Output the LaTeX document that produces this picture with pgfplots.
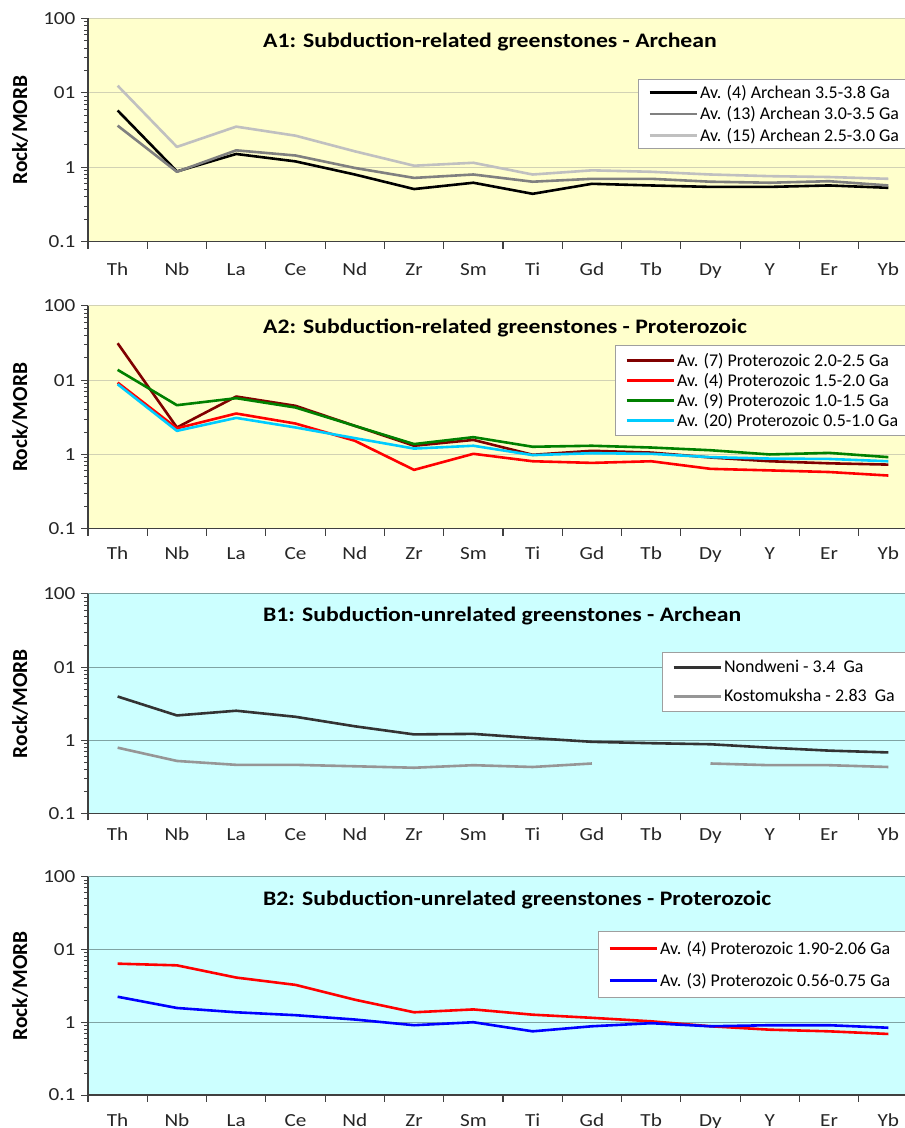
\documentclass[border=0pt]{standalone}
\usepackage{fontspec}
\setmainfont{Carlito}[FakeStretch=1.15]
\newfontfamily\ylfont{Carlito}
\newfontfamily\lgfont{Carlito}
\usepackage{pgfplots}
\usepackage{pgfplotstable}
\pgfplotsset{compat=1.18}

\definecolor{bgA}{HTML}{FFFFCC}
\definecolor{bgB}{HTML}{CCFFFF}
\definecolor{gridA}{HTML}{D2D2B4}
\definecolor{gridB}{HTML}{7FA3A3}
\definecolor{axc}{HTML}{404040}
\definecolor{lgrey}{HTML}{C0C0C0}
\definecolor{mgrey}{HTML}{808080}
\definecolor{dred}{HTML}{800000}
\definecolor{cgreen}{HTML}{008000}
\definecolor{ccyan}{HTML}{00CCFF}
\definecolor{ndw}{HTML}{333333}
\definecolor{kst}{HTML}{969696}

\newcommand{\tail}{\hspace*{16bp}}

\pgfplotstableread{
idx a4 a13 a15
0 5.8 3.63 12.5
1 0.88 0.87 1.88
2 1.51 1.69 3.52
3 1.2 1.44 2.66
4 0.80 0.98 1.64
5 0.51 0.72 1.05
6 0.62 0.80 1.15
7 0.44 0.64 0.80
8 0.60 0.70 0.91
9 0.57 0.70 0.87
10 0.545 0.64 0.80
11 0.545 0.62 0.76
12 0.57 0.65 0.74
13 0.53 0.57 0.70
}\tabAone

\pgfplotstableread{
idx p7 p4 p9 p20
0 31.5 9.3 13.8 8.83
1 2.31 2.25 4.61 2.08
2 6.03 3.56 5.73 3.11
3 4.52 2.61 4.29 2.31
4 2.43 1.53 2.43 1.66
5 1.31 0.62 1.38 1.20
6 1.57 1.02 1.71 1.31
7 0.99 0.81 1.27 0.98
8 1.12 0.77 1.31 1.04
9 1.06 0.81 1.24 1.02
10 0.91 0.64 1.14 0.92
11 0.81 0.61 1.00 0.88
12 0.76 0.58 1.05 0.87
13 0.73 0.52 0.92 0.81
}\tabAtwo

\pgfplotstableread{
idx n k
0 3.96 0.79
1 2.18 0.52
2 2.53 0.46
3 2.09 0.46
4 1.55 0.44
5 1.20 0.42
6 1.22 0.455
7 1.07 0.43
8 0.95 0.48
9 0.91 nan
10 0.88 0.48
11 0.79 0.455
12 0.72 0.455
13 0.68 0.43
}\tabBone

\pgfplotstableread{
idx r b
0 6.38 2.24
1 6.05 1.57
2 4.11 1.37
3 3.26 1.25
4 2.04 1.09
5 1.37 0.91
6 1.50 1.00
7 1.27 0.75
8 1.15 0.88
9 1.03 0.97
10 0.88 0.88
11 0.79 0.91
12 0.75 0.91
13 0.69 0.84
}\tabBtwo

\pgfplotsset{
  legend image code/.code={\draw[#1] (0bp,0bp) -- (40bp,0bp); \path (0bp,0bp) -- (47bp,0bp);},
  scale only axis, width=830bp,
  xmin=-0.5, xmax=13.5,
  ymin=0.1, ymax=100,
  axis x line*=bottom, axis y line*=left,
  axis line style={draw=axc, line width=1.2bp},
  xtick={0,...,13},
  xticklabels={Th,Nb,La,Ce,Nd,Zr,Sm,Ti,Gd,Tb,Dy,Y,Er,Yb},
  xtick style={draw=none},
  extra x ticks={-0.5,0.5,...,13.5},
  extra x tick labels={},
  extra x tick style={xtick style={draw=axc, line width=1.2bp}},
  ytick={0.1,1,10,100},
  yticklabels={0.1,1,01,100},
  minor ytick={0.2,0.3,0.4,0.5,0.6,0.7,0.8,0.9,2,3,4,5,6,7,8,9,20,30,40,50,60,70,80,90},
  tick align=outside,
  major tick length=7bp, minor tick length=4bp,
  ytick style={draw=axc, line width=1bp},
  ymajorgrids,
  tick label style={font=\fontsize{18.5}{20}\selectfont, text=black!85},
  yticklabel style={anchor=east, xshift=-2bp},
  ylabel={Rock/MORB},
  every axis y label/.style={at={(axis description cs:-0.0819,0.5)}, rotate=90, anchor=center, font=\ylfont\bfseries\fontsize{21.5}{23}\selectfont},
  legend cell align=left,
  legend style={anchor=north west, draw=gray!75, fill=white, line width=1bp,
    font=\lgfont\fontsize{18}{20}\selectfont, inner xsep=10bp},
  unbounded coords=jump,
}
\tikzset{ttl/.style={anchor=base west, inner sep=0pt, font=\bfseries\fontsize{20.7}{22}\selectfont},
  pl/.style={line width=2.6bp, line join=round}}

\begin{document}
\begin{tikzpicture}
% A1
\begin{axis}[ymode=log, height=223.2bp, at={(88bp,886.3bp)}, anchor=south west,
  axis background/.style={fill=bgA}, major grid style={draw=gridA, line width=1bp},
  xticklabel style={anchor=base, yshift=-26.7bp},
  legend style={at={(0.6627,0.731)}, row sep=3bp, inner ysep=4bp}]
\addplot[pl, black] table[x=idx,y=a4] {\tabAone};
\addlegendentry{Av. (4) Archean 3.5-3.8 Ga\tail}
\addplot[pl, mgrey] table[x=idx,y=a13] {\tabAone};
\addlegendentry{Av. (13) Archean 3.0-3.5 Ga\tail}
\addplot[pl, lgrey] table[x=idx,y=a15] {\tabAone};
\addlegendentry{Av. (15) Archean 2.5-3.0 Ga\tail}
\node[ttl] at (rel axis cs:0.2108,0.869) {A1: Subduction-related greenstones - Archean};
\end{axis}
% A2
\begin{axis}[ymode=log, height=222.7bp, at={(88bp,599.3bp)}, anchor=south west,
  axis background/.style={fill=bgA}, major grid style={draw=gridA, line width=1bp},
  xticklabel style={anchor=base, yshift=-23.6bp},
  legend style={at={(0.6349,0.825)}, row sep=1.5bp, inner ysep=5.5bp}]
\addplot[pl, dred] table[x=idx,y=p7] {\tabAtwo};
\addlegendentry{Av. (7) Proterozoic 2.0-2.5 Ga\tail}
\addplot[pl, red] table[x=idx,y=p4] {\tabAtwo};
\addlegendentry{Av. (4) Proterozoic 1.5-2.0 Ga\tail}
\addplot[pl, cgreen] table[x=idx,y=p9] {\tabAtwo};
\addlegendentry{Av. (9) Proterozoic 1.0-1.5 Ga\tail}
\addplot[pl, ccyan] table[x=idx,y=p20] {\tabAtwo};
\addlegendentry{Av. (20) Proterozoic 0.5-1.0 Ga\tail}
\node[ttl] at (rel axis cs:0.2108,0.877) {A2: Subduction-related greenstones - Proterozoic};
\end{axis}
% B1
\begin{axis}[ymode=log, height=219.3bp, at={(88bp,314.7bp)}, anchor=south west,
  axis background/.style={fill=bgB}, major grid style={draw=gridB, line width=1bp},
  xticklabel style={anchor=base, yshift=-20.7bp},
  legend style={at={(0.6916,0.7355)}, row sep=11bp, inner ysep=6bp}]
\addplot[pl, ndw] table[x=idx,y=n] {\tabBone};
\addlegendentry{Nondweni - 3.4 \ Ga\tail}
\addplot[pl, kst] table[x=idx,y=k] {\tabBone};
\addlegendentry{Kostomuksha - 2.83 \ Ga\tail}
\node[ttl] at (rel axis cs:0.2108,0.874) {B1: Subduction-unrelated greenstones - Archean};
\end{axis}
% B2
\begin{axis}[ymode=log, height=218.3bp, at={(88bp,33bp)}, anchor=south west,
  axis background/.style={fill=bgB}, major grid style={draw=gridB, line width=1bp},
  xticklabel style={anchor=base, yshift=-24.5bp},
  legend style={at={(0.6145,0.7513)}, row sep=13bp, inner ysep=8bp}]
\addplot[pl, red] table[x=idx,y=r] {\tabBtwo};
\addlegendentry{Av. (4) Proterozoic 1.90-2.06 Ga\tail}
\addplot[pl, blue] table[x=idx,y=b] {\tabBtwo};
\addlegendentry{Av. (3) Proterozoic 0.56-0.75 Ga\tail}
\node[ttl] at (rel axis cs:0.2108,0.870) {B2: Subduction-unrelated greenstones - Proterozoic};
\end{axis}
\pgfresetboundingbox
\path[use as bounding box] (0bp,0bp) rectangle (905bp,1128bp);
\end{tikzpicture}
\end{document}
